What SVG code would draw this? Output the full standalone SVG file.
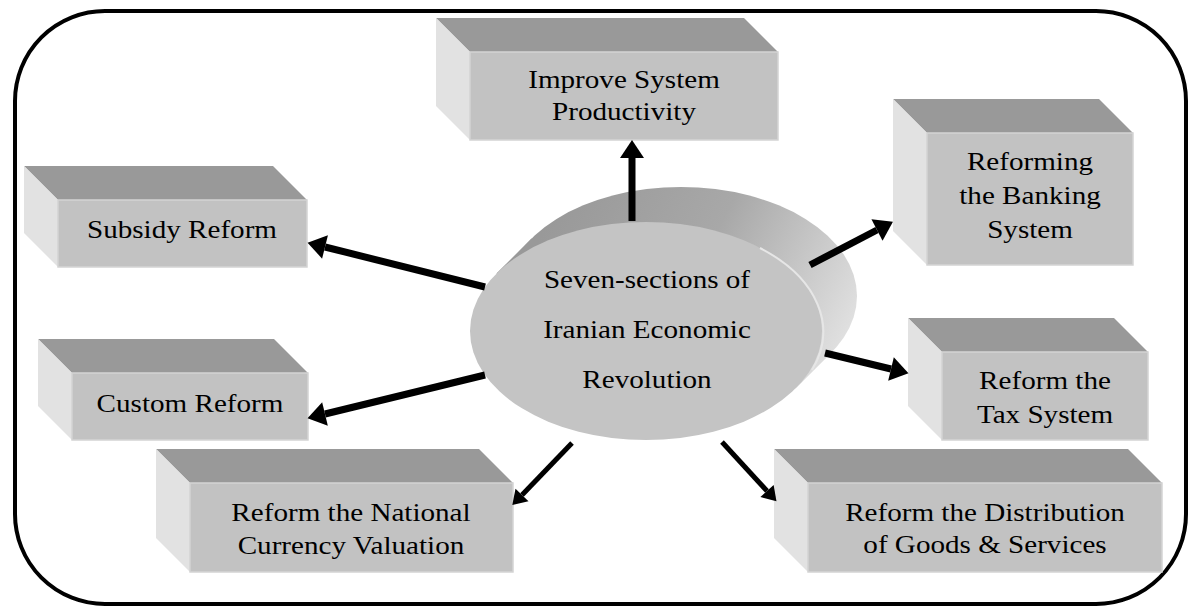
<svg xmlns="http://www.w3.org/2000/svg" width="1197" height="614" viewBox="0 0 1197 614">
  <style>
    .top { fill: #999999; }
    .side { fill: #e2e2e2; }
    .front { fill: #c2c2c2; stroke: #d4d4d4; stroke-width: 1.5; }
    text { font-family: 'Liberation Serif', 'DejaVu Serif', serif; font-size: 25px; fill: #000; text-anchor: middle; }
    .conn { stroke: #000; fill: none; }
    .thick { stroke-width: 7; }
    .thin { stroke-width: 5; }
  </style>
  <defs>
    <marker id="head" viewBox="0 -12 18 24" refX="0" refY="0" markerWidth="18" markerHeight="24" markerUnits="userSpaceOnUse" orient="auto" overflow="visible">
      <path d="M0,-12 L18,0 L0,12 Z" fill="#000"/>
    </marker>
    <marker id="headSmall" viewBox="0 -9 14 18" refX="0" refY="0" markerWidth="14" markerHeight="18" markerUnits="userSpaceOnUse" orient="auto" overflow="visible">
      <path d="M0,-9 L14,0 L0,9 Z" fill="#000"/>
    </marker>
    <linearGradient id="drum" gradientUnits="userSpaceOnUse" x1="560" y1="200" x2="860" y2="360">
      <stop offset="0" stop-color="#999999"/>
      <stop offset="0.45" stop-color="#a8a8a8"/>
      <stop offset="1" stop-color="#e8e8e8"/>
    </linearGradient>
  </defs>

  <!-- outer frame -->
  <rect x="15" y="11" width="1171" height="593" rx="90" ry="90" fill="#fff" stroke="#000" stroke-width="4"/>

  <!-- boxes: top face, left face, front face; labels are set slightly wide -->
  <g id="improve-productivity">
    <polygon class="top" points="436,18 744,18 778,52 470,52"/>
    <polygon class="side" points="436,18 470,52 470,140 436,106"/>
    <rect class="front" x="470" y="52" width="308" height="88"/>
    <text transform="translate(624 88) scale(1.165 1)">Improve System</text>
    <text transform="translate(624 120) scale(1.165 1)">Productivity</text>
  </g>

  <g id="subsidy-reform">
    <polygon class="top" points="24,166 273,166 307,200 58,200"/>
    <polygon class="side" points="24,166 58,200 58,267 24,233"/>
    <rect class="front" x="58" y="200" width="249" height="67"/>
    <text transform="translate(182 238) scale(1.165 1)">Subsidy Reform</text>
  </g>

  <g id="banking-system">
    <polygon class="top" points="893,99 1099,99 1133,133 927,133"/>
    <polygon class="side" points="893,99 927,133 927,265 893,231"/>
    <rect class="front" x="927" y="133" width="206" height="132"/>
    <text transform="translate(1030 170) scale(1.165 1)">Reforming</text>
    <text transform="translate(1030 204) scale(1.165 1)">the Banking</text>
    <text transform="translate(1030 238) scale(1.165 1)">System</text>
  </g>

  <g id="tax-system">
    <polygon class="top" points="908,318 1114,318 1148,352 942,352"/>
    <polygon class="side" points="908,318 942,352 942,440 908,406"/>
    <rect class="front" x="942" y="352" width="206" height="88"/>
    <text transform="translate(1045 389) scale(1.165 1)">Reform the</text>
    <text transform="translate(1045 423) scale(1.165 1)">Tax System</text>
  </g>

  <g id="custom-reform">
    <polygon class="top" points="38,339 274,339 308,373 72,373"/>
    <polygon class="side" points="38,339 72,373 72,440 38,406"/>
    <rect class="front" x="72" y="373" width="236" height="67"/>
    <text transform="translate(190 412) scale(1.165 1)">Custom Reform</text>
  </g>

  <g id="currency-valuation">
    <polygon class="top" points="156,449 479,449 513,483 190,483"/>
    <polygon class="side" points="156,449 190,483 190,572 156,538"/>
    <rect class="front" x="190" y="483" width="323" height="89"/>
    <text transform="translate(351 521) scale(1.165 1)">Reform the National</text>
    <text transform="translate(351 554) scale(1.165 1)">Currency Valuation</text>
  </g>

  <g id="goods-distribution">
    <polygon class="top" points="774,449 1128,449 1162,483 808,483"/>
    <polygon class="side" points="774,449 808,483 808,572 774,538"/>
    <rect class="front" x="808" y="483" width="354" height="89"/>
    <text transform="translate(985 521) scale(1.165 1)">Reform the Distribution</text>
    <text transform="translate(985 553) scale(1.165 1)">of Goods &amp; Services</text>
  </g>

  <!-- central drum -->
  <g id="economic-revolution">
    <ellipse cx="681" cy="296" rx="176" ry="109" fill="url(#drum)"/>
    <polygon points="496.4,273.6 531.4,238.6 830.6,353.4 795.6,388.4" fill="url(#drum)"/>
    <ellipse cx="646" cy="331" rx="176" ry="109" fill="#c4c4c4"/>
    <path d="M 760,248 A 176 109 0 0 1 812,370" fill="none" stroke="#e6e6e6" stroke-width="2"/>
    <text transform="translate(647 288) scale(1.165 1)">Seven-sections of</text>
    <text transform="translate(647 338) scale(1.165 1)">Iranian Economic</text>
    <text transform="translate(647 388) scale(1.165 1)">Revolution</text>
  </g>

  <!-- connectors -->
  <g id="connectors">
    <line class="conn thick" x1="632" y1="221" x2="632" y2="158" marker-end="url(#head)"/>
    <line class="conn thick" x1="810" y1="265" x2="877" y2="230" marker-end="url(#head)"/>
    <line class="conn thick" x1="825" y1="353" x2="891" y2="369" marker-end="url(#head)"/>
    <line class="conn thick" x1="485" y1="287" x2="325" y2="247" marker-end="url(#head)"/>
    <line class="conn thick" x1="485" y1="375" x2="325" y2="414" marker-end="url(#head)"/>
    <line class="conn thin" x1="572" y1="443" x2="522" y2="495" marker-end="url(#headSmall)"/>
    <line class="conn thin" x1="722" y1="442" x2="767" y2="491" marker-end="url(#headSmall)"/>
  </g>
</svg>
